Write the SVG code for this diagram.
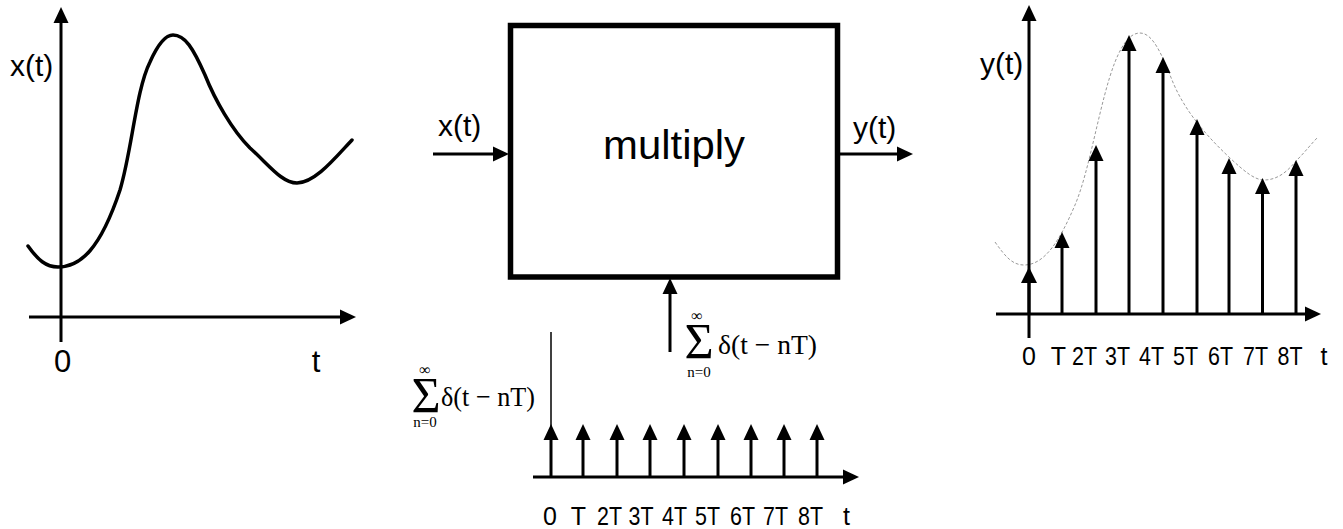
<svg xmlns="http://www.w3.org/2000/svg" width="1343" height="529" viewBox="0 0 1343 529">
<style>
.ax{stroke:#000;stroke-width:3;fill:none}
.stem{stroke:#000;stroke-width:3;fill:none}
.curve{stroke:#000;stroke-width:3.5;fill:none;stroke-linecap:round;stroke-linejoin:round}
.dash{stroke:#999;stroke-width:1;fill:none;stroke-dasharray:3 2}
.thin{stroke:#000;stroke-width:1.5;fill:none}
.sans{font-family:"Liberation Sans",Arial,sans-serif;fill:#000}
.serif{font-family:"Liberation Serif","Times New Roman",serif;fill:#000}
.sig{font-family:"Liberation Serif","Times New Roman",serif;font-size:50px;text-anchor:middle;fill:#000}
.lbl{font-family:"Liberation Sans",Arial,sans-serif;font-size:25px;text-anchor:middle;fill:#000}
</style>
<defs>
<marker id="ah" markerUnits="userSpaceOnUse" markerWidth="17" markerHeight="17" refX="0" refY="8" orient="auto" viewBox="0 0 17 17">
<path d="M0,0.5 L16,8 L0,15.5 z" fill="#000"/>
</marker>
</defs>

<g id="plot-x">
<line class="ax" x1="61" y1="342" x2="61" y2="23" marker-end="url(#ah)"/>
<line class="ax" x1="29" y1="317" x2="340" y2="317" marker-end="url(#ah)"/>
<path class="curve" d="M28,246 C38,260 46,267 58,267 C80,267 100,250 120,190 C132,150 136,90 150,62 C158,44 166,35 173,35 C185,35 193,48 205,75 C215,100 232,130 250,148 C270,166 282,183 297,183 C315,183 335,158 352,140"/>
<text class="sans" x="10" y="76" font-size="30">x(t)</text>
<text class="sans" x="62.5" y="372" font-size="31" text-anchor="middle">0</text>
<text class="sans" x="316" y="372" font-size="31" text-anchor="middle">t</text>
</g>

<g id="multiply">
<rect x="510.5" y="25.5" width="327" height="251.5" fill="#fff" stroke="#000" stroke-width="5.5"/>
<text class="sans" x="674" y="159" font-size="40" text-anchor="middle" textLength="142" lengthAdjust="spacingAndGlyphs">multiply</text>
</g>

<g id="connectors">
<line class="ax" x1="433" y1="154" x2="493" y2="154" marker-end="url(#ah)"/>
<line class="ax" x1="840" y1="154" x2="897" y2="154" marker-end="url(#ah)"/>
<line class="ax" x1="670" y1="352" x2="670" y2="294" marker-end="url(#ah)"/>
</g>

<g id="labels-mid">
<text class="sans" x="438" y="136" font-size="30">x(t)</text>
<text class="sans" x="853" y="138" font-size="30">y(t)</text>
<text class="sig" x="699" y="358">Σ</text>
<text class="serif" x="697" y="321" font-size="16" text-anchor="middle">∞</text>
<text class="serif" x="699" y="377" font-size="15" text-anchor="middle">n=0</text>
<text class="serif" x="718" y="354" font-size="28" textLength="99" lengthAdjust="spacingAndGlyphs">δ(t − nT)</text>
</g>

<g id="impulse-train">
<line class="thin" x1="551" y1="332" x2="551" y2="477"/>
<line class="ax" x1="533" y1="477" x2="843" y2="477" marker-end="url(#ah)"/>
<line class="stem" x1="551" y1="477" x2="551" y2="440" marker-end="url(#ah)"/>
<line class="stem" x1="583" y1="477" x2="583" y2="440" marker-end="url(#ah)"/>
<line class="stem" x1="617" y1="477" x2="617" y2="440" marker-end="url(#ah)"/>
<line class="stem" x1="650" y1="477" x2="650" y2="440" marker-end="url(#ah)"/>
<line class="stem" x1="684" y1="477" x2="684" y2="440" marker-end="url(#ah)"/>
<line class="stem" x1="718" y1="477" x2="718" y2="440" marker-end="url(#ah)"/>
<line class="stem" x1="751" y1="477" x2="751" y2="440" marker-end="url(#ah)"/>
<line class="stem" x1="784" y1="477" x2="784" y2="440" marker-end="url(#ah)"/>
<line class="stem" x1="817" y1="477" x2="817" y2="440" marker-end="url(#ah)"/>
<text class="sig" x="426" y="412">Σ</text>
<text class="serif" x="425" y="375" font-size="16" text-anchor="middle">∞</text>
<text class="serif" x="425" y="427" font-size="15" text-anchor="middle">n=0</text>
<text class="serif" x="441" y="406" font-size="28" textLength="94" lengthAdjust="spacingAndGlyphs">δ(t − nT)</text>
<text class="lbl" x="550" y="525">0</text>
<text class="lbl" x="578.5" y="525">T</text>
<text class="lbl" x="609.5" y="525" textLength="25" lengthAdjust="spacingAndGlyphs">2T</text>
<text class="lbl" x="641" y="525" textLength="25" lengthAdjust="spacingAndGlyphs">3T</text>
<text class="lbl" x="674.5" y="525" textLength="25" lengthAdjust="spacingAndGlyphs">4T</text>
<text class="lbl" x="707.5" y="525" textLength="25" lengthAdjust="spacingAndGlyphs">5T</text>
<text class="lbl" x="742.5" y="525" textLength="25" lengthAdjust="spacingAndGlyphs">6T</text>
<text class="lbl" x="775.5" y="525" textLength="25" lengthAdjust="spacingAndGlyphs">7T</text>
<text class="lbl" x="810.5" y="525" textLength="25" lengthAdjust="spacingAndGlyphs">8T</text>
<text class="lbl" x="846.5" y="525">t</text>
</g>

<g id="plot-y">
<path class="dash" d="M995,242 C1005,256 1012,265 1024,265 C1045,265 1060,240 1075,205 C1090,170 1100,100 1115,62 C1123,42 1131,33 1140,33 C1153,33 1162,55 1172,80 C1182,105 1200,130 1230,158 C1245,172 1255,180 1264,180 C1280,180 1290,168 1297,160 C1305,152 1312,143 1318,137"/>
<line class="ax" x1="1029" y1="338" x2="1029" y2="21" marker-end="url(#ah)"/>
<line class="ax" x1="996" y1="314" x2="1305" y2="314" marker-end="url(#ah)"/>
<line class="stem" x1="1029" y1="314" x2="1029" y2="283"/>
<path d="M1021,283 L1029,267 L1037,283 z" fill="#000"/>
<line class="stem" x1="1062" y1="314" x2="1062" y2="248" marker-end="url(#ah)"/>
<line class="stem" x1="1096" y1="314" x2="1096" y2="161" marker-end="url(#ah)"/>
<line class="stem" x1="1129" y1="314" x2="1129" y2="51" marker-end="url(#ah)"/>
<line class="stem" x1="1163" y1="314" x2="1163" y2="73" marker-end="url(#ah)"/>
<line class="stem" x1="1197" y1="314" x2="1197" y2="135" marker-end="url(#ah)"/>
<line class="stem" x1="1229" y1="314" x2="1229" y2="174" marker-end="url(#ah)"/>
<line class="stem" x1="1262.5" y1="314" x2="1262.5" y2="194" marker-end="url(#ah)"/>
<line class="stem" x1="1296" y1="314" x2="1296" y2="176" marker-end="url(#ah)"/>
<text class="sans" x="980" y="74" font-size="30">y(t)</text>
<text class="lbl" x="1029" y="365">0</text>
<text class="lbl" x="1058.5" y="365">T</text>
<text class="lbl" x="1084.5" y="365" textLength="25" lengthAdjust="spacingAndGlyphs">2T</text>
<text class="lbl" x="1117.5" y="365" textLength="25" lengthAdjust="spacingAndGlyphs">3T</text>
<text class="lbl" x="1151.5" y="365" textLength="25" lengthAdjust="spacingAndGlyphs">4T</text>
<text class="lbl" x="1185.5" y="365" textLength="25" lengthAdjust="spacingAndGlyphs">5T</text>
<text class="lbl" x="1220.5" y="365" textLength="25" lengthAdjust="spacingAndGlyphs">6T</text>
<text class="lbl" x="1255.5" y="365" textLength="25" lengthAdjust="spacingAndGlyphs">7T</text>
<text class="lbl" x="1290" y="365" textLength="25" lengthAdjust="spacingAndGlyphs">8T</text>
<text class="lbl" x="1324" y="365">t</text>
</g>
</svg>
